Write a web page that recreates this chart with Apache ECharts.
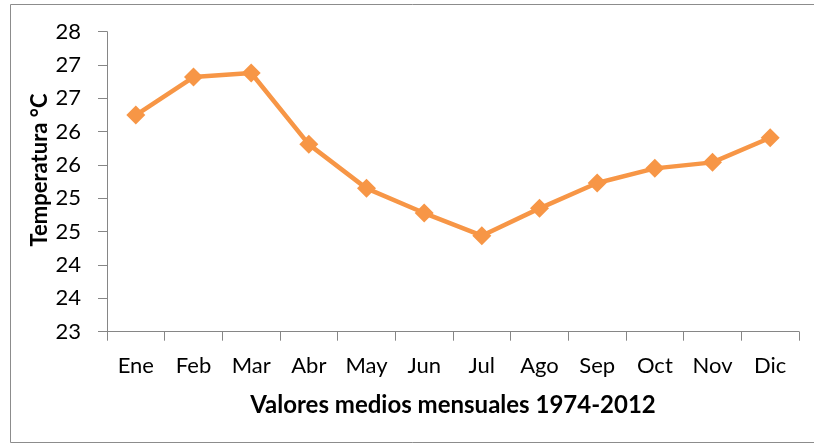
<!DOCTYPE html>
<html><head><meta charset="utf-8">
<script src="https://cdn.jsdelivr.net/npm/echarts@6/dist/echarts.min.js"></script>
<style>html,body{margin:0;padding:0;background:#fff}#c{width:814px;height:444px}</style>
</head><body><div id="c"></div>
<script>
const months = ['Ene','Feb','Mar','Abr','May','Jun','Jul','Ago','Sep','Oct','Nov','Dic'];
const temps = [26.25,26.82,26.88,25.81,25.15,24.78,24.44,24.85,25.23,25.45,25.54,25.91];
const xTitle = 'Valores medios mensuales 1974-2012';
const yTitle = 'Temperatura °C';
const font = 'Lato, "Open Sans", sans-serif';
const chart = echarts.init(document.getElementById('c'));
chart.setOption({
  animation: false,
  graphic: [
    {type:'rect', shape:{x:10.5,y:4.5,width:830,height:438}, style:{fill:null, stroke:'#8c8c8c', lineWidth:1}, silent:true},
    {type:'text', x:40, y:170, rotation:Math.PI/2, style:{text:yTitle, fill:'#000', fontSize:22, fontWeight:'bold', fontFamily:font, align:'center', verticalAlign:'middle'}, silent:true}
  ],
  grid: {left:107, right:15, top:31.7, bottom:112.3, containLabel:false},
  xAxis: {
    type:'category', data: months, boundaryGap:true,
    axisLine:{lineStyle:{color:'#868686', width:1}},
    axisTick:{show:true, length:9, lineStyle:{color:'#868686'}},
    axisLabel:{color:'#000', fontSize:22, fontFamily:font, margin:23},
    name: xTitle, nameLocation:'middle', nameGap:62,
    nameTextStyle:{color:'#000', fontSize:24, fontWeight:'bold', fontFamily:font}
  },
  yAxis: {
    type:'value', min:23, max:27.5, interval:0.5,
    axisLine:{show:true, lineStyle:{color:'#868686', width:1}},
    axisTick:{show:true, length:9, lineStyle:{color:'#868686'}},
    splitLine:{show:false},
    axisLabel:{color:'#000', fontSize:22, fontFamily:font, margin:26, formatter: v => String(Math.round(v))}
  },
  series: [{
    type:'line', data: temps,
    symbol:'diamond', symbolSize:19,
    lineStyle:{color:'#F79646', width:4.5},
    itemStyle:{color:'#F79646'}
  }]
});
</script></body></html>
